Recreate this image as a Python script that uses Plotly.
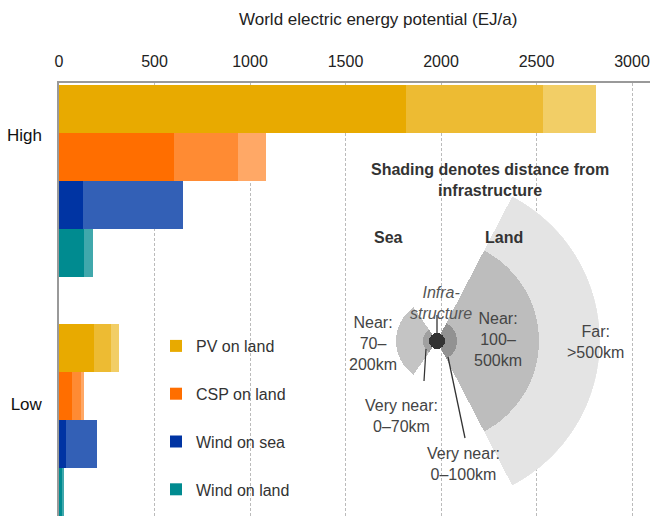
import plotly.graph_objects as go

# ---------------- data (EJ/a) ----------------
technologies = ["PV on land", "CSP on land", "Wind on sea", "Wind on land"]
scenarios = ["High", "Low"]
# each list: [High, Low]
very_near_values = {
    "PV on land": [1818, 183],
    "CSP on land": [600, 68],
    "Wind on sea": [127, 37],
    "Wind on land": [133, 16],
}
near_values = {
    "PV on land": [715, 89],
    "CSP on land": [335, 45],
    "Wind on sea": [521, 160],
    "Wind on land": [47, 7],
}
far_values = {
    "PV on land": [279, 44],
    "CSP on land": [150, 16],
    "Wind on sea": [0, 0],
    "Wind on land": [0, 0],
}
x_ticks = [0, 500, 1000, 1500, 2000, 2500, 3000]

# inset diagram (radii in diagram units)
land_labels = ["Far", "Near", "Very near"]
land_radii = [163, 102, 20]
sea_labels = ["Near", "Very near"]
sea_radii = [41, 14]
infra_radius = 8

# ---------------- styles ----------------
colors = {
    "PV on land": ["#E8AA00", "#EDBB33", "#F2CE66"],
    "CSP on land": ["#FF6E00", "#FF8B33", "#FFA866"],
    "Wind on sea": ["#0034A3", "#3360B6", "#7F9AD2"],
    "Wind on land": ["#008B90", "#40A8AC", "#80C5C7"],
}
rows = {"PV on land": [0, 5], "CSP on land": [1, 6], "Wind on sea": [2, 7], "Wind on land": [3, 8]}
FONT = "Liberation Sans, Arial, Helvetica, sans-serif"

W, H = 653, 516
ML, MR, MT, MB = 59, 3, 83, 0
PW, PH = W - ML - MR, H - MT - MB


def px(xp):
    return (xp - ML) / PW


def py(yp):
    return (H - yp) / PH


fig = go.Figure()

bands = [very_near_values, near_values, far_values]
for tech in technologies:
    for i, band in enumerate(bands):
        fig.add_trace(go.Bar(
            x=band[tech], y=rows[tech], orientation="h", width=1,
            marker=dict(color=colors[tech][i], line=dict(width=0)),
            name=tech, legendgroup=tech, showlegend=(i == 0),
            hoverinfo="x+name",
        ))

# inset: land sectors (right), sea sectors (left), infrastructure dot
land_colors = ["#E4E4E4", "#BDBDBD", "#929292"]
for r, c in zip(land_radii, land_colors):
    fig.add_trace(go.Barpolar(r=[r], theta=[0], width=[125], marker=dict(color=c, line=dict(width=0)),
                              showlegend=False, subplot="polar", hoverinfo="skip"))
sea_colors = ["#C4C4C4", "#A0A0A0"]
for r, c in zip(sea_radii, sea_colors):
    fig.add_trace(go.Barpolar(r=[r], theta=[180], width=[110], marker=dict(color=c, line=dict(width=0)),
                              showlegend=False, subplot="polar", hoverinfo="skip"))
fig.add_trace(go.Barpolar(r=[infra_radius], theta=[0], width=[360], marker=dict(color="#333333", line=dict(width=0)),
                          showlegend=False, subplot="polar", hoverinfo="skip"))

R = land_radii[0]
cx, cy = 437, 341

annotations = []


def ann(text, xp, yp, size=16, color="#444444", **kw):
    d = dict(text=text, x=px(xp), y=py(yp), xref="paper", yref="paper", showarrow=False,
             font=dict(family=FONT, size=size, color=color), xanchor="center", yanchor="middle")
    d.update(kw)
    annotations.append(d)


ann("World electric energy potential (EJ/a)", 378, 20, size=17, color="#222222")
ann("<b>Shading denotes distance from</b><br><b>infrastructure</b>", 490, 180, size=16, color="#333333")
ann("<b>Sea</b>", 388, 238, color="#333333")
ann("<b>Land</b>", 504, 238, color="#333333")
ann("<i>Infra-</i><br><i>structure</i>", 441, 303, color="#555555")
ann("Near:<br>70–<br>200km", 373, 343)
ann("Near:<br>100–<br>500km", 498, 339)
ann("Far:<br>>500km", 595, 342)
ann("Very near:<br>0–70km", 401, 416)
ann("Very near:<br>0–100km", 463, 464)

shapes = [
    # white mask behind the inset diagram
    dict(type="path", xref="paper", yref="paper", layer="between",
         path=f"M{px(340)},{py(175)} L{px(360)},{py(175)} L{px(360)},{py(155)} L{px(625)},{py(155)} "
              f"L{px(625)},{py(495)} L{px(340)},{py(495)} Z",
         fillcolor="white", line=dict(width=0)),
    dict(type="line", xref="paper", yref="paper", x0=px(437), y0=py(315), x1=px(437), y1=py(333),
         line=dict(color="#333333", width=1.3)),
    dict(type="line", xref="paper", yref="paper", x0=px(424), y0=py(381), x1=px(426), y1=py(349),
         line=dict(color="#333333", width=1.3)),
    dict(type="line", xref="paper", yref="paper", x0=px(465), y0=py(438), x1=px(448), y1=py(357),
         line=dict(color="#333333", width=1.3)),
]

fig.update_layout(
    width=W, height=H,
    margin=dict(l=ML, r=MR, t=MT, b=MB, pad=0),
    paper_bgcolor="white", plot_bgcolor="white",
    barmode="stack", bargap=0,
    font=dict(family=FONT, size=16, color="#222222"),
    xaxis=dict(side="top", range=[0, 3000 * PW / 573], tickvals=x_ticks,
               ticktext=[str(v) for v in x_ticks], showgrid=True, gridcolor="#BBBBBB",
               griddash="3px,2px", gridwidth=1, zeroline=False, showline=True,
               linecolor="#999999", linewidth=1.5, ticks="", ticklabelstandoff=8,
               tickfont=dict(size=16, color="#222222")),
    yaxis=dict(range=[8.5, -0.54], tickvals=[0.54, 6.16], ticktext=scenarios,
               showgrid=False, zeroline=False, showline=True, linecolor="#999999",
               linewidth=1.5, ticks="", ticklabelstandoff=12,
               tickfont=dict(size=17, color="#111111")),
    polar=dict(domain=dict(x=[px(cx - R), px(cx + R)], y=[py(cy + R), py(cy - R)]),
               bgcolor="rgba(0,0,0,0)", barmode="overlay", hole=0,
               radialaxis=dict(visible=False, range=[0, R]),
               angularaxis=dict(visible=False, rotation=0, direction="counterclockwise")),
    legend=dict(x=px(156), y=py(329), xanchor="left", yanchor="top", traceorder="grouped",
                tracegroupgap=24, bgcolor="rgba(0,0,0,0)",
                font=dict(family=FONT, size=16, color="#333333")),
    annotations=annotations,
    shapes=shapes,
    showlegend=True,
)

fig.write_html("out.html", config={"displayModeBar": False},
               post_script="document.body.style.margin='0';document.body.style.padding='0';")
